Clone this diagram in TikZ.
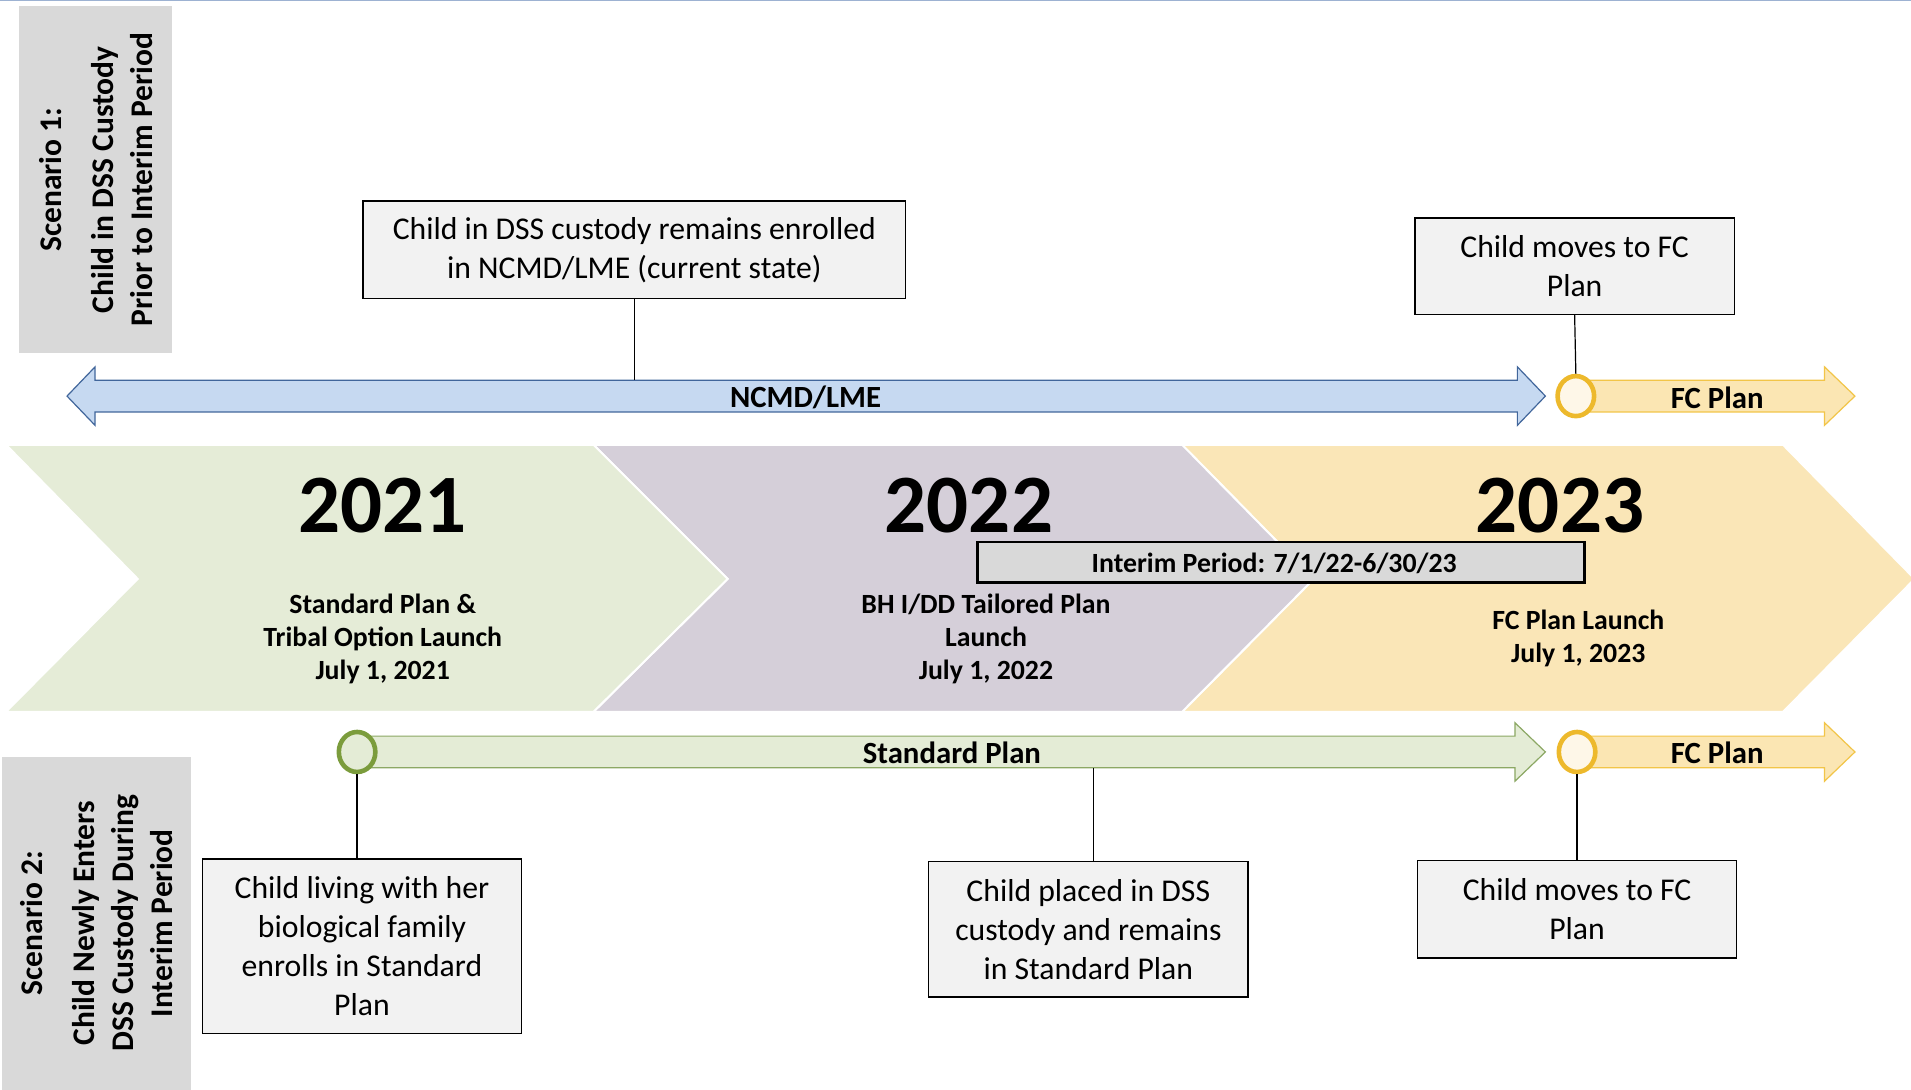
\documentclass[tikz,border=0pt]{standalone}
\usepackage{fontspec}
\setmainfont{Carlito}
\usetikzlibrary{shapes.geometric}
\definecolor{chgreen}{HTML}{E5ECD7}
\definecolor{chpurple}{HTML}{D5CFD9}
\definecolor{chyellow}{HTML}{FAE6B7}
\definecolor{scengray}{HTML}{D9D9D9}
\definecolor{boxgray}{HTML}{F2F2F2}
\definecolor{ncmdfill}{HTML}{C6D9F1}
\definecolor{ncmdline}{HTML}{41669B}
\definecolor{spfill}{HTML}{E4ECD6}
\definecolor{spline}{HTML}{8CA864}
\definecolor{fcfill}{HTML}{FBE6B3}
\definecolor{fcline}{HTML}{F2C548}
\definecolor{ring}{HTML}{EDB92C}
\definecolor{ringfill}{HTML}{FEF7E8}
\definecolor{gring}{HTML}{7B9C3C}
\definecolor{topline}{HTML}{9DB2D2}
\begin{document}
\begin{tikzpicture}[x=1.2188pt,y=-1.2188pt,
  box/.style={draw=black, line width=1.5pt, fill=boxgray, align=center, inner sep=0pt,
    minimum width=319.3pt, font=\fontsize{31.7}{39}\selectfont},
  scen/.style={fill=scengray, align=center, inner sep=0pt, rotate=90,
    font=\fontsize{31.5}{39}\selectfont\bfseries},
  year/.style={font=\fontsize{83}{100}\selectfont\bfseries, inner sep=0pt},
  sub/.style={font=\fontsize{27.8}{33}\selectfont\bfseries, align=center, inner sep=0pt},
  lbl/.style={font=\fontsize{30.8}{36}\selectfont\bfseries, inner sep=0pt},
  chev/.style={draw=white, line width=2pt},
  yring/.style={ellipse, draw=ring, line width=4.6pt, fill=ringfill, minimum width=36.5pt, minimum height=40pt, inner sep=0pt},
  gring/.style={ellipse, draw=gring, line width=4.6pt, fill=spfill, minimum width=36.5pt, minimum height=40pt, inner sep=0pt},
  conn/.style={draw=black, line width=1.2pt}
]
\useasboundingbox (0,0) rectangle (1568,894);
\fill[white] (0,0) rectangle (1568,894);
\draw[topline, line width=1.5pt] (0,0.6) -- (1568,0.6);

% chevrons
\path[chev, fill=chyellow] (970,365) -- (1463,365) -- (1571,475) -- (1463,584) -- (970,584) -- (1078,475) -- cycle;
\path[chev, fill=chpurple] (487,365) -- (970,365) -- (1078,475) -- (970,584) -- (487,584) -- (597,475) -- cycle;
\path[chev, fill=chgreen] (5,365) -- (487,365) -- (597,475) -- (487,584) -- (5,584) -- (113,475) -- cycle;

% scenario boxes
\node[scen, minimum width=347.4pt, minimum height=152.4pt] (s1) at (78.5,147.5)
  {Scenario 1:\\[13pt]Child in DSS Custody\\Prior to Interim Period};
\node[scen, minimum width=332.7pt, minimum height=189pt] (s2) at (79.5,757.5)
  {Scenario 2:\\[13pt]Child Newly Enters\\DSS Custody During\\Interim Period};

% NCMD double arrow
\path[draw=ncmdline, line width=1.2pt, fill=ncmdfill]
  (55,325) -- (78,301) -- (78,312) -- (1245,312) -- (1245,301) -- (1268,325)
  -- (1245,349) -- (1245,338) -- (78,338) -- (78,349) -- cycle;
\node[lbl] (ncmd) at (661,326) {NCMD/LME};

% FC plan arrow top
\path[draw=fcline, line width=1.2pt, fill=fcfill]
  (1293,312) -- (1497,312) -- (1497,301) -- (1522,325) -- (1497,349) -- (1497,338) -- (1293,338) -- cycle;
\node[lbl] (fc1) at (1409,326) {FC Plan};
\node[yring] (yc1) at (1293,325) {};

% Standard plan arrow
\path[draw=spline, line width=1.2pt, fill=spfill]
  (293,604) -- (1243,604) -- (1243,593) -- (1268,617) -- (1243,641) -- (1243,630) -- (293,630) -- cycle;
\node[lbl] (sp) at (781,618) {Standard Plan};
\node[gring] (gc) at (293,617) {};
\coordinate (spb) at (897,630);

% FC plan arrow bottom
\path[draw=fcline, line width=1.2pt, fill=fcfill]
  (1294,604) -- (1497,604) -- (1497,593) -- (1522,617) -- (1497,641) -- (1497,630) -- (1294,630) -- cycle;
\node[lbl] (fc2) at (1409,618) {FC Plan};
\node[yring] (yc2) at (1294,617) {};

% years and launch texts
\node[year] (y21) at (314,415) {2021};
\node[year] (y22) at (795,415) {2022};
\node[year] (y23) at (1280,415) {2023};
\node[sub] (l21) at (314,524) {Standard Plan \&\\Tribal Option Launch\\July 1, 2021};
\node[sub] (l22) at (809,524) {BH I/DD Tailored Plan\\Launch\\July 1, 2022};
\node[sub] (l23) at (1295,523.5) {FC Plan Launch\\July 1, 2023};

% interim period
\node[draw=black, line width=2.2pt, fill=scengray, minimum width=607pt, minimum height=40.2pt, inner sep=0pt] (interim) at (1051,461.5) {};
\node[font=\fontsize{27.8}{33}\selectfont\bfseries, inner sep=0pt] (interimtxt) at (1045.5,462.5) {Interim Period: 7/1/22-6/30/23};

% callout boxes
\node[box, minimum width=542.4pt, minimum height=97.5pt] (A) at (520.5,205)
  {Child in DSS custody remains enrolled\\in NCMD/LME (current state)};
\node[box, minimum height=96.3pt] (B) at (1292,218.5) {Child moves to FC\\Plan};
\node[box, minimum height=174.3pt] (C) at (297,776.5)
  {Child living with her\\biological family\\enrolls in Standard\\Plan};
\node[box, minimum height=135.3pt] (D) at (893,762.5)
  {Child placed in DSS\\custody and remains\\in Standard Plan};
\node[box, minimum height=97.5pt] (E) at (1294,746) {Child moves to FC\\Plan};

% connectors
\coordinate (ncmdtop) at (520.5,312);
\draw[conn] (A.south) -- (ncmdtop);
\draw[conn] (B.south) -- (yc1.north);
\draw[conn] (gc.south) -- (gc.south |- C.north);
\draw[conn] (spb) -- (spb |- D.north);
\draw[conn] (yc2.south) -- (E.north);
\end{tikzpicture}
\end{document}
